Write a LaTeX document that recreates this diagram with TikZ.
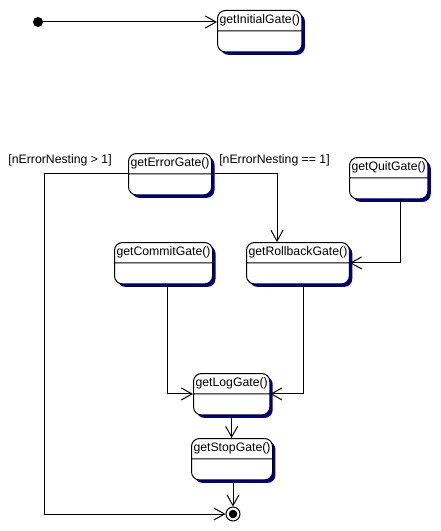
\documentclass[tikz,border=0pt]{standalone}
\usepackage{fontspec}
\setmainfont{Liberation Sans}
\definecolor{mShade}{RGB}{0,0,128}
\usetikzlibrary{arrows.meta,positioning,calc,shapes.multipart,shadows}
\tikzset{
  gatebox/.style={rectangle split, rectangle split parts=2, draw, fill=white,
    rounded corners=6pt, line width=0.75pt, inner xsep=1.5pt, inner ysep=3pt,
    rectangle split empty part height=9pt, anchor=north west,
    font=\fontsize{9.2}{11}\selectfont,
    drop shadow={shadow xshift=2.2pt, shadow yshift=-2.2pt, fill=mShade, opacity=1}},
  trans/.style={-{Straight Barb[length=8pt,width=9pt]}, line width=0.75pt},
  guardlbl/.style={font=\fontsize{9.2}{11}\selectfont, inner sep=0pt},
}
\begin{document}
\begin{tikzpicture}[x=0.75pt, y=-0.75pt]
    \useasboundingbox (0,0) rectangle (441,531);
    % pseudo states
    \node[circle, fill, inner sep=0pt, minimum size=7.5pt] (start) at (38,22) {};
    \node[circle, draw, line width=0.75pt, inner sep=0pt, minimum size=10.5pt] (final) at (233,514) {};
    \fill (final) circle (3.2pt);
    % states
    \node[gatebox] (initgate) at (217,10) {getInitialGate()\nodepart{two}};
    \node[gatebox] (errgate) at (128,153) {getErrorGate()\nodepart{two}};
    \node[gatebox] (quitgate) at (349,157) {getQuitGate()\nodepart{two}};
    \node[gatebox] (commitgate) at (114,242) {getCommitGate()\nodepart{two}};
    \node[gatebox] (rollgate) at (246,242) {getRollbackGate()\nodepart{two}};
    \node[gatebox] (loggate) at (193,373) {getLogGate()\nodepart{two}};
    \node[gatebox] (stopgate) at (191,438) {getStopGate()\nodepart{two}};
    % guards
    \node[guardlbl, anchor=east] (gbig) at (112,160) {[nErrorNesting > 1]};
    \node[guardlbl, anchor=west] (gone) at (219,160) {[nErrorNesting == 1]};
    % transitions
    \draw[trans] (start) -- (initgate.text split west |- start);
    \draw[trans] (errgate.text split west) -- ++(-84,0) |- (final);
    \draw[trans] (errgate.text split east) -| ($(rollgate.north west)+(31,0)$);
    \draw[trans] ($(quitgate.south west)+(51,0)$) |- (rollgate.text split east);
    \draw[trans] ($(commitgate.south west)+(53,0)$) |- (loggate.text split west);
    \draw[trans] ($(rollgate.south west)+(57,0)$) |- (loggate.text split east);
    \draw[trans] (loggate.south) -- (stopgate.north -| loggate.south);
    \draw[trans] (stopgate.south -| final) -- (final);
\end{tikzpicture}
\end{document}
